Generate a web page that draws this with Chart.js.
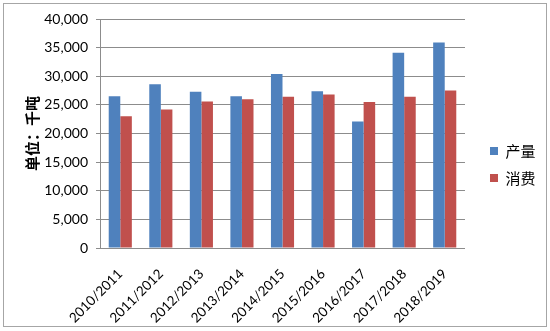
<!DOCTYPE html>
<html lang="zh">
<head>
    <meta charset="UTF-8">
    <title>产量与消费</title>
    <style>
        body {
            margin: 0;
            background-color: #ffffff;
        }
        .wrap {
            position: relative;
            width: 550px;
            height: 331px;
        }
        .frame {
            position: absolute;
            left: 3px;
            top: 3px;
            width: 542px;
            height: 322px;
            border: 1px solid #a6a6a6;
            pointer-events: none;
        }
    </style>
    <script src="https://cdn.jsdelivr.net/npm/chart.js"></script>
</head>
<body>
    <div class="wrap">
        <canvas id="chart" width="550" height="331"></canvas>
        <div class="frame"></div>
    </div>
    <script>
        const years = ['2010/2011', '2011/2012', '2012/2013', '2013/2014', '2014/2015',
                       '2015/2016', '2016/2017', '2017/2018', '2018/2019'];
        const production = [26500, 28600, 27300, 26500, 30400, 27400, 22100, 34100, 35900];
        const consumption = [23000, 24200, 25600, 26000, 26400, 26800, 25500, 26400, 27500];
        const yMax = 40000;
        const yStep = 5000;

        const gridColor = '#8c8c8c';
        const fontFamily = 'Lato, "Liberation Sans", sans-serif';

        // empty axis, only reserves space around the plot area
        function spacer(position, size) {
            return {
                type: 'linear',
                position: position,
                grid: { display: false, drawTicks: false },
                border: { display: false },
                ticks: { display: false },
                afterFit(scale) {
                    if (position === 'top' || position === 'bottom') scale.height = size;
                    else scale.width = size;
                }
            };
        }

        new Chart(document.getElementById('chart'), {
            type: 'bar',
            data: {
                labels: years,
                datasets: [
                    {
                        label: '产量',
                        data: production,
                        backgroundColor: '#4f81bd',
                        categoryPercentage: 0.57,
                        barPercentage: 1.0
                    },
                    {
                        label: '消费',
                        data: consumption,
                        backgroundColor: '#c0504d',
                        categoryPercentage: 0.57,
                        barPercentage: 1.0
                    }
                ]
            },
            options: {
                responsive: false,
                animation: false,
                layout: {
                    padding: { left: 19, top: 0, right: 4.5, bottom: 2 }
                },
                plugins: {
                    tooltip: { enabled: false },
                    legend: {
                        position: 'right',
                        labels: {
                            boxWidth: 8,
                            boxHeight: 8,
                            padding: 12,
                            color: '#000000',
                            font: { family: '"Noto Sans CJK SC", sans-serif', size: 15 }
                        }
                    }
                },
                scales: {
                    x: {
                        grid: { display: false, drawTicks: false },
                        border: { color: gridColor },
                        ticks: {
                            autoSkip: false,
                            minRotation: 45,
                            maxRotation: 45,
                            padding: 18,
                            color: '#000000',
                            font: { family: fontFamily, size: 13.5 }
                        },
                        afterFit(scale) {
                            scale.height = 81;
                        }
                    },
                    y: {
                        min: 0,
                        max: yMax,
                        grid: { color: gridColor, tickLength: 4 },
                        border: { color: gridColor },
                        ticks: {
                            stepSize: yStep,
                            padding: 8,
                            color: '#000000',
                            font: { family: fontFamily, size: 14 },
                            callback: v => v.toLocaleString('en-US')
                        },
                        title: {
                            display: true,
                            text: '单位：千吨',
                            color: '#000000',
                            font: { family: '"Noto Sans CJK SC", sans-serif', size: 15, weight: 'bold' }
                        },
                        afterFit(scale) {
                            scale.width = 81;
                        }
                    },
                    topGap: spacer('top', 19),
                    rightGap: spacer('right', 13)
                }
            }
        });
    </script>
</body>
</html>
